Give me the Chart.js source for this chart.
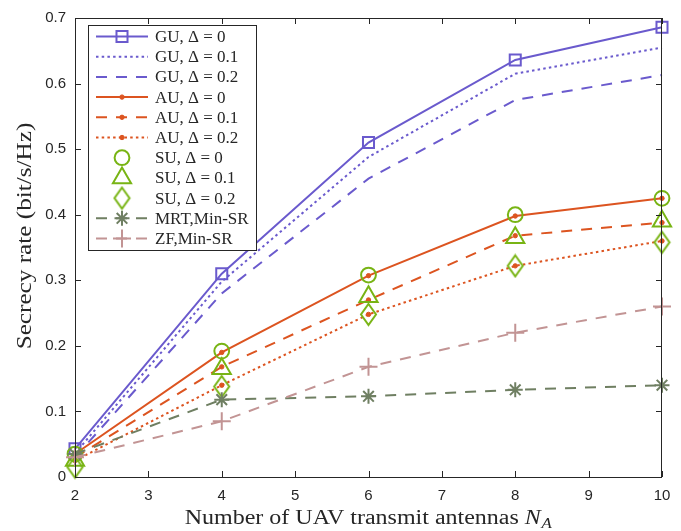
<!DOCTYPE html>
<html>
<head>
<meta charset="utf-8">
<script src="https://cdn.jsdelivr.net/npm/chart.js@4.4.1/dist/chart.umd.min.js"></script>
<style>
  html, body { margin: 0; padding: 0; background: #fff; }
  #wrap { width: 681px; height: 531px; position: relative; }
</style>
</head>
<body>
<div id="wrap"><canvas id="c" width="681" height="531"></canvas></div>
<script>
// Number of UAV transmit antennas
const antennas = [2, 4, 6, 8, 10];
const xTicks = [2, 3, 4, 5, 6, 7, 8, 9, 10];
const yTicks = [0, 0.1, 0.2, 0.3, 0.4, 0.5, 0.6, 0.7];

// Secrecy rate (bit/s/Hz) per scheme and error level
const guD0  = [0.043, 0.310, 0.510, 0.636, 0.686];
const guD1  = [0.036, 0.298, 0.488, 0.615, 0.655];
const guD2  = [0.030, 0.280, 0.455, 0.575, 0.613];
const auD0  = [0.035, 0.190, 0.307, 0.398, 0.425];
const auD1  = [0.030, 0.168, 0.270, 0.368, 0.388];
const auD2  = [0.025, 0.140, 0.248, 0.322, 0.360];
const suD0  = [0.035, 0.192, 0.308, 0.400, 0.425];
const suD1  = [0.025, 0.165, 0.275, 0.365, 0.390];
const suD2  = [0.015, 0.138, 0.248, 0.322, 0.358];
const mrt   = [0.035, 0.118, 0.123, 0.133, 0.140];
const zf    = [0.030, 0.085, 0.168, 0.220, 0.260];

const C_GU = '#6a5acd';
const C_AU = '#dc5420';
const C_SU = '#78b414';
const C_MRT = '#6f7f62';
const C_ZF = '#c29494';

const DOT = [2.5, 3.2];
const DASH = [11, 9];

// tall open diamond marker
function diamondMarker(color, w, h, lw) {
  const cv = document.createElement('canvas');
  cv.width = w + lw * 2; cv.height = h + lw * 2;
  const g = cv.getContext('2d');
  const cx = cv.width / 2, cy = cv.height / 2;
  g.strokeStyle = color; g.lineWidth = lw; g.lineJoin = 'miter';
  g.beginPath();
  g.moveTo(cx, cy - h / 2); g.lineTo(cx + w / 2, cy);
  g.lineTo(cx, cy + h / 2); g.lineTo(cx - w / 2, cy);
  g.closePath(); g.stroke();
  return cv;
}
const suDiamond = diamondMarker(C_SU, 15, 21, 2);

function ser(label, data, color, opts) {
  return Object.assign({
    label, data: data.map((v, i) => ({ x: antennas[i], y: v })),
    borderColor: color, backgroundColor: color,
    borderWidth: 2, pointBorderWidth: 2, pointRadius: 0,
    pointBackgroundColor: 'rgba(0,0,0,0)', pointBorderColor: color,
    tension: 0, showLine: true, borderDash: [], fill: false, clip: false
  }, opts);
}

const datasets = [
  ser('GU, Δ = 0', guD0, C_GU, { pointStyle: 'rect', pointRadius: 7.8 }),
  ser('GU, Δ = 0.1', guD1, C_GU, { borderDash: DOT }),
  ser('GU, Δ = 0.2', guD2, C_GU, { borderDash: DASH }),
  ser('AU, Δ = 0', auD0, C_AU, { pointStyle: 'circle', pointRadius: 2.2, pointBackgroundColor: C_AU, pointBorderWidth: 1 }),
  ser('AU, Δ = 0.1', auD1, C_AU, { borderDash: DASH, pointStyle: 'circle', pointRadius: 2.2, pointBackgroundColor: C_AU, pointBorderWidth: 1 }),
  ser('AU, Δ = 0.2', auD2, C_AU, { borderDash: DOT, pointStyle: 'circle', pointRadius: 2.2, pointBackgroundColor: C_AU, pointBorderWidth: 1 }),
  ser('SU, Δ = 0', suD0, C_SU, { showLine: false, pointStyle: 'circle', pointRadius: 7.4 }),
  ser('SU, Δ = 0.1', suD1, C_SU, { showLine: false, pointStyle: 'triangle', pointRadius: 10.5 }),
  ser('SU, Δ = 0.2', suD2, C_SU, { showLine: false, pointStyle: suDiamond, pointRadius: 10 }),
  ser('MRT,Min-SR', mrt, C_MRT, { borderDash: DASH, pointStyle: 'star', pointRadius: 7.5 }),
  ser('ZF,Min-SR', zf, C_ZF, { borderDash: DASH, pointStyle: 'cross', pointRadius: 9 })
];
// later series are painted on top
datasets.forEach((d, i) => { d.order = datasets.length - i; });

const AXIS_COLOR = '#262626';
const SERIF = '"Liberation Serif", "DejaVu Serif", serif';
const STRETCH = 1.2; // widen the serif face a little

const frame = {
  id: 'frame',
  afterDatasetsDraw(chart) {
    const { ctx, chartArea: a, scales } = chart;
    ctx.save();
    ctx.strokeStyle = AXIS_COLOR; ctx.lineWidth = 1;
    ctx.strokeRect(a.left + 0.5, a.top + 0.5, a.right - a.left - 1, a.bottom - a.top);
    const tl = 6;
    ctx.beginPath();
    xTicks.forEach(v => {
      const x = Math.round(scales.x.getPixelForValue(v)) + 0.5;
      ctx.moveTo(x, a.bottom); ctx.lineTo(x, a.bottom - tl);
      ctx.moveTo(x, a.top); ctx.lineTo(x, a.top + tl);
    });
    yTicks.forEach(v => {
      const y = Math.round(scales.y.getPixelForValue(v)) + 0.5;
      ctx.moveTo(a.left, y); ctx.lineTo(a.left + tl, y);
      ctx.moveTo(a.right, y); ctx.lineTo(a.right - tl, y);
    });
    ctx.stroke();

    // x axis title with italic N and subscript A
    ctx.fillStyle = AXIS_COLOR;
    ctx.textBaseline = 'alphabetic';
    ctx.textAlign = 'left';
    const main = 'Number of UAV transmit antennas ';
    ctx.font = '20px ' + SERIF;
    const w1 = ctx.measureText(main).width;
    ctx.font = 'italic 20px ' + SERIF;
    const w2 = ctx.measureText('N').width;
    ctx.font = 'italic 14px ' + SERIF;
    const w3 = ctx.measureText('A').width;
    const total = w1 + w2 + w3 + 1;
    ctx.save();
    ctx.translate((a.left + a.right) / 2, 524);
    ctx.scale(STRETCH, 1);
    const x0 = -total / 2;
    ctx.font = '20px ' + SERIF; ctx.fillText(main, x0, 0);
    ctx.font = 'italic 20px ' + SERIF; ctx.fillText('N', x0 + w1, 0);
    ctx.font = 'italic 14px ' + SERIF; ctx.fillText('A', x0 + w1 + w2 + 0.5, 4);
    ctx.restore();

    // y axis title
    ctx.save();
    ctx.translate(31, 236);
    ctx.rotate(-Math.PI / 2);
    ctx.scale(STRETCH, 1);
    ctx.textAlign = 'center';
    ctx.font = '21px ' + SERIF;
    ctx.fillText('Secrecy rate (bit/s/Hz)', 0, 0);
    ctx.restore();
    ctx.restore();
  },
  afterDraw(chart) {
    // legend box inside the plot area
    const { ctx } = chart;
    const bx = 88.5, by = 25.5, bw = 168, bh = 225;
    ctx.save();
    ctx.fillStyle = '#fff';
    ctx.fillRect(bx, by, bw, bh);
    ctx.strokeStyle = AXIS_COLOR; ctx.lineWidth = 1;
    ctx.strokeRect(bx, by, bw, bh);
    const rowH = 20.2, y0 = 36.5;
    chart.data.datasets.forEach((d, i) => {
      const y = y0 + i * rowH;
      if (d.showLine !== false) {
        ctx.save();
        ctx.strokeStyle = d.borderColor; ctx.lineWidth = d.borderWidth;
        ctx.setLineDash(d.borderDash || []);
        ctx.beginPath(); ctx.moveTo(96, y); ctx.lineTo(148, y); ctx.stroke();
        ctx.restore();
      }
      if (d.pointRadius > 0) {
        ctx.save();
        ctx.setLineDash([]);
        ctx.strokeStyle = d.pointBorderColor;
        ctx.fillStyle = d.pointBackgroundColor;
        ctx.lineWidth = d.pointBorderWidth;
        Chart.helpers.drawPoint(ctx, {
          pointStyle: d.pointStyle, radius: d.pointRadius,
          rotation: 0, borderWidth: d.pointBorderWidth
        }, 122, y);
        ctx.restore();
      }
      ctx.fillStyle = AXIS_COLOR;
      ctx.font = '17px ' + SERIF;
      ctx.textAlign = 'left'; ctx.textBaseline = 'middle';
      ctx.fillText(d.label, 155, y + 1);
    });
    ctx.restore();
  }
};

new Chart(document.getElementById('c'), {
  type: 'line',
  data: { datasets },
  plugins: [frame],
  options: {
    responsive: false,
    animation: false,
    layout: { padding: { top: 15, right: 19, left: 0, bottom: 0 } },
    plugins: { legend: { display: false }, tooltip: { enabled: false } },
    elements: { line: { borderCapStyle: 'butt' } },
    scales: {
      x: {
        type: 'linear', min: 2, max: 10,
        afterBuildTicks: s => { s.ticks = xTicks.map(v => ({ value: v })); },
        afterFit: s => { s.height = 54; },
        grid: { display: false, drawTicks: false },
        border: { display: false },
        ticks: { color: AXIS_COLOR, padding: 10, maxRotation: 0, autoSkip: false,
                 font: { family: '"Liberation Sans", Arial, sans-serif', size: 15 },
                 callback: v => String(v) }
      },
      y: {
        type: 'linear', min: 0, max: 0.7,
        afterBuildTicks: s => { s.ticks = yTicks.map(v => ({ value: v })); },
        afterFit: s => { s.width = 75; },
        grid: { display: false, drawTicks: false },
        border: { display: false },
        ticks: { color: AXIS_COLOR, padding: 9, autoSkip: false,
                 font: { family: '"Liberation Sans", Arial, sans-serif', size: 15 },
                 callback: v => String(Math.round(v * 10) / 10) }
      }
    }
  }
});
</script>
</body>
</html>
